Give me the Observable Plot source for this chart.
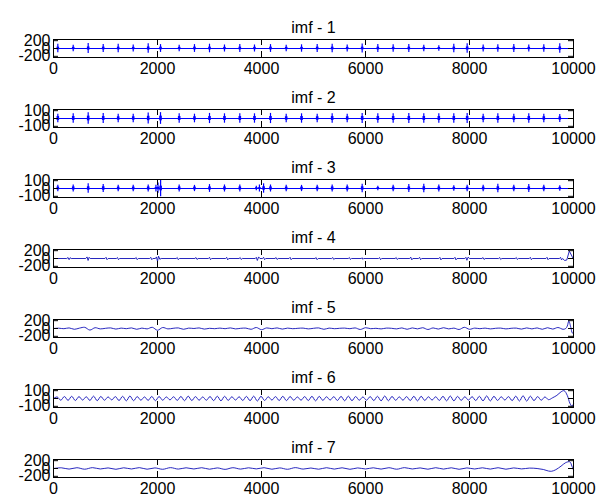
<!DOCTYPE html>
<html>
<head>
<meta charset="utf-8">
<script src="https://cdn.jsdelivr.net/npm/d3@7"></script>
<script src="https://cdn.jsdelivr.net/npm/@observablehq/plot@0.6"></script>
<style>
  body { margin: 0; background: #fff; }
  #chart { padding-bottom: 11px; }
  #chart svg { display: block; overflow: visible; background: none; }
</style>
</head>
<body>
<div id="chart"></div>
<script>
// Sample axis and tick labels
const xTicks = [0, 2000, 4000, 6000, 8000, 10000];
const yTicksWide = [-200, 0, 200];
const yTicksNarrow = [-100, 0, 100];
const titles = ["imf - 1", "imf - 2", "imf - 3", "imf - 4", "imf - 5", "imf - 6", "imf - 7"];

// Impulsive modes: [sample, top, bottom, core half-height]
const imf1Spikes = [
  [83,110,-110,35],[379,80,-80,30],[667,125,-125,40],[956,100,-100,35],[1244,110,-110,35],
  [1533,90,-90,30],[1821,120,-120,40],[2058,100,-100,35],[2417,80,-80,30],[2711,100,-100,35],
  [3000,110,-110,35],[3288,90,-90,30],[3583,100,-100,35],[3865,90,-90,30],[4173,100,-100,35],
  [4475,85,-85,30],[4770,95,-95,30],[5071,100,-100,35],[5359,110,-110,35],[5648,90,-90,30],
  [5936,115,-115,35],[6237,100,-100,35],[6532,95,-95,30],[6833,100,-100,35],[7121,80,-80,30],
  [7410,70,-70,25],[7698,110,-110,35],[7955,120,-120,40],[8263,90,-90,30],[8545,95,-95,30],
  [8852,100,-100,35],[9140,90,-90,30],[9429,95,-95,30],[9736,120,-120,40]
];
const imf2Spikes = [
  [83,55,-55,25],[379,60,-60,25],[667,75,-75,30],[956,65,-65,25],[1244,55,-55,22],
  [1533,55,-55,22],[1821,70,-70,28],[2058,75,-75,30],[2417,60,-60,25],[2711,55,-55,22],
  [3000,65,-65,25],[3288,60,-60,25],[3583,60,-60,25],[3865,60,-60,25],[4173,65,-65,25],
  [4475,55,-55,22],[4770,60,-60,25],[5071,55,-55,22],[5359,60,-60,25],[5648,55,-55,22],
  [5936,65,-65,25],[6237,60,-60,25],[6532,60,-60,25],[6833,65,-65,25],[7121,60,-60,25],
  [7410,60,-60,25],[7698,60,-60,25],[7955,65,-65,25],[8263,55,-55,22],[8545,60,-60,25],
  [8852,55,-55,22],[9140,60,-60,25],[9429,55,-55,22],[9736,50,-50,20]
];
const imf3Spikes = [
  [83,40,-40,18],[379,45,-45,20],[667,60,-60,22],[956,50,-50,22],[1244,40,-40,18],
  [1533,40,-40,18],[1821,45,-45,20],[1970,40,-45,12],[2010,70,-60,15],[2060,105,-105,30],
  [2417,45,-45,20],[2711,40,-40,18],[3000,50,-50,20],[3288,45,-45,20],[3583,45,-45,20],
  [3900,30,-30,10],[3960,45,-45,12],[4040,60,-60,22],[4173,45,-45,20],[4475,40,-40,18],
  [4770,40,-40,18],[5071,40,-40,18],[5359,45,-45,20],[5648,45,-45,20],[5936,55,-55,22],
  [6237,30,-30,12],[6532,40,-40,18],[6833,50,-50,20],[7121,55,-55,22],[7410,45,-45,20],
  [7698,35,-35,15],[7955,40,-40,18],[8263,40,-40,18],[8545,55,-55,22],[8852,40,-40,18],
  [9140,50,-50,20],[9429,40,-40,18],[9736,35,-35,15]
];

// imf - 4: short oscillatory bursts on a flat line, [sample, value]
const imf4 = [
  [0,0],
  [255,0],[280,25],[300,-30],[320,20],[340,0],
  [620,0],[645,40],[665,-50],[685,30],[705,0],
  [990,0],[1010,30],[1030,-30],[1050,0],
  [1210,0],[1230,25],[1250,-30],[1270,0],
  [1570,0],[1590,25],[1610,-30],[1630,0],
  [1850,0],[1870,30],[1890,-30],[1910,0],
  [1960,0],[1980,40],[2000,-70],[2020,60],[2045,-20],[2070,0],
  [2360,0],[2380,25],[2400,-30],[2420,0],
  [2720,0],[2740,25],[2760,-25],[2780,0],
  [2980,0],[3000,30],[3020,-30],[3040,0],
  [3310,0],[3330,30],[3350,-35],[3370,0],
  [3570,0],[3590,25],[3610,-25],[3630,0],
  [3880,0],[3900,30],[3920,-50],[3945,40],[3970,0],
  [4020,0],[4040,30],[4060,-30],[4080,0],
  [4260,0],[4280,25],[4300,-25],[4320,0],
  [4530,0],[4550,30],[4570,-30],[4590,0],
  [5030,0],[5050,25],[5070,-30],[5090,0],
  [5350,0],[5370,25],[5390,-25],[5410,0],
  [5670,0],[5690,25],[5710,-25],[5730,0],
  [5920,0],[5936,20],[5950,-20],[5965,0],
  [6250,0],[6270,25],[6290,-30],[6310,0],
  [6570,0],[6590,25],[6610,-25],[6630,0],
  [6850,0],[6870,35],[6890,-35],[6910,0],
  [7020,0],[7040,30],[7060,-30],[7080,0],
  [7410,0],[7430,30],[7450,-35],[7470,0],
  [7700,0],[7720,30],[7740,-35],[7760,0],
  [7910,0],[7930,30],[7950,-45],[7975,35],[8000,0],
  [8240,0],[8260,25],[8280,-25],[8300,0],
  [8560,0],[8580,25],[8600,-25],[8620,0],
  [8880,0],[8900,25],[8920,-25],[8940,0],
  [9150,0],[9170,30],[9190,-30],[9210,0],
  [9470,0],[9490,30],[9510,-30],[9530,0],
  [9730,0],[9750,30],[9770,-35],[9790,0],
  [9830,-50],[9870,-40],[9920,190],[9970,60],[10000,-20]
];

// imf - 5: values every 100 samples up to 9800, then the end swing
const imf5Step = 100;
const imf5Wave = [
  0,8,-5,15,-20,10,30,-40,20,-10,
  5,15,-15,10,-5,15,-20,10,-10,30,
  -45,25,-10,5,15,-20,10,0,15,-15,
  5,-5,10,-5,15,-10,5,10,-20,25,
  -30,15,-5,15,-15,10,-5,5,10,-10,
  5,15,-20,10,-5,5,10,-5,15,-25,
  20,-5,5,-10,10,5,-10,15,-20,15,
  -10,20,-25,15,-15,20,-10,10,-25,30,
  -20,10,-5,10,-10,5,10,-10,5,10,
  -15,15,-10,15,-20,20,-15,25,-20
];
const imf5Tail = [[9850,0],[9880,60],[9910,190],[9950,20],[9975,-110],[10000,-130]];

// imf - 6: alternating peaks and troughs every 70 samples, then the end swing
const imf6Step = 70;
const imf6Wave = [
  0,20,-22,25,-24,28,-26,24,-20,22,
  -25,30,-28,26,-22,20,-18,24,-26,28,
  -30,32,-28,24,-22,20,-24,26,-28,25,
  -22,20,-18,22,-24,26,-28,30,-26,24,
  -22,20,-22,25,-27,29,-30,28,-24,22,
  -20,22,-25,27,-28,30,-32,28,-25,22,
  -20,24,-26,28,-27,25,-22,20,-22,24,
  -26,28,-30,27,-24,22,-20,23,-25,27,
  -29,30,-28,25,-22,20,-22,24,-26,28,
  -30,32,-29,26,-23,21,-22,24,-26,28,
  -30,28,-25,22,-20,22,-25,28,-30,32,
  -30,27,-24,22,-20,23,-26,28,-30,33,
  -31,28,-25,22,-20,24,-27,30,-32,35,
  -33,30,-27,24,-22,20,-15
];
const imf6Tail = [[9600,10],[9680,40],[9760,85],[9820,100],[9880,40],[9930,-60],[9970,-100],[10000,-70]];

// imf - 7: slow ripple every 150 samples up to 9300, then the end swing
const imf7Step = 150;
const imf7Wave = [
  0,18,-15,20,-18,22,-12,15,-20,18,
  -12,22,-18,15,-20,22,-15,18,-12,20,
  -18,15,-22,20,-15,18,-10,20,-18,15,
  -20,22,-15,12,-18,20,-15,18,-20,15,
  -12,18,-15,20,-18,22,-12,15,-18,20,
  -15,18,-20,15,-12,18,-15,20,-18,15,
  -10,10,0
];
const imf7Tail = [[9420,-25],[9520,-65],[9580,-70],[9660,-30],[9760,60],[9850,150],[9930,170],[9970,60],[10000,-40]];

const blue = "#0000ff";
const navy = "#1010b8";
const font = "'Liberation Sans', Arial, Helvetica, sans-serif";

function waveWithTail(values, step, tail) {
  return values.map((v, i) => [i * step, v]).concat(tail);
}

function spikeMarks(spikes) {
  return [
    Plot.ruleY([0], {stroke: blue, strokeWidth: 1}),
    Plot.ruleX(spikes, {x: d => d[0], y1: d => d[2], y2: d => d[1], stroke: blue, strokeWidth: 1.2}),
    Plot.ruleX(spikes, {x: d => d[0], y1: d => -d[3], y2: d => d[3], stroke: blue, strokeWidth: 2.6})
  ];
}

function lineMarks(points, curve = "linear") {
  return [Plot.line(points, {x: d => d[0], y: d => d[1], stroke: navy, strokeWidth: 0.9, curve})];
}

function panel(title, yTicks, yMax, dataMarks) {
  return Plot.plot({
    width: 604,
    height: 70,
    marginTop: 39,
    marginBottom: 13,
    marginLeft: 53,
    marginRight: 31,
    x: {domain: [0, 10000], axis: null},
    y: {domain: [-yMax, yMax], axis: null},
    style: {fontFamily: font, fontSize: "16px", background: "none", overflow: "visible", color: "#000"},
    marks: [
      ...dataMarks,
      // inward ticks on all four sides
      Plot.ruleX(xTicks, {x: d => d, insetBottom: 12, stroke: "#000", strokeWidth: 1}),
      Plot.ruleX(xTicks, {x: d => d, insetTop: 12, stroke: "#000", strokeWidth: 1}),
      Plot.ruleY(yTicks, {y: d => d, insetRight: 515, stroke: "#000", strokeWidth: 1}),
      Plot.ruleY(yTicks, {y: d => d, insetLeft: 515, stroke: "#000", strokeWidth: 1}),
      Plot.frame({stroke: "#000", strokeWidth: 1}),
      Plot.text(xTicks, {x: d => d, frameAnchor: "bottom", dy: 16, text: d => String(d), fontSize: 16, fill: "#000"}),
      Plot.text(yTicks, {y: d => d, frameAnchor: "left", dx: -3, textAnchor: "end", text: d => String(d), fontSize: 16, fill: "#000"}),
      Plot.text([title], {frameAnchor: "top", dy: -17.5, text: d => d, fontSize: 16, fill: "#000"})
    ]
  });
}

const chart = document.getElementById("chart");
const panels = [
  panel(titles[0], yTicksWide, 230, spikeMarks(imf1Spikes)),
  panel(titles[1], yTicksNarrow, 115, spikeMarks(imf2Spikes)),
  panel(titles[2], yTicksNarrow, 115, spikeMarks(imf3Spikes)),
  panel(titles[3], yTicksWide, 230, lineMarks(imf4)),
  panel(titles[4], yTicksWide, 230, lineMarks(waveWithTail(imf5Wave, imf5Step, imf5Tail), "catmull-rom")),
  panel(titles[5], yTicksNarrow, 115, lineMarks(waveWithTail(imf6Wave, imf6Step, imf6Tail), "catmull-rom")),
  panel(titles[6], yTicksWide, 230, lineMarks(waveWithTail(imf7Wave, imf7Step, imf7Tail), "catmull-rom"))
];
for (const p of panels) chart.appendChild(p);
</script>
</body>
</html>
